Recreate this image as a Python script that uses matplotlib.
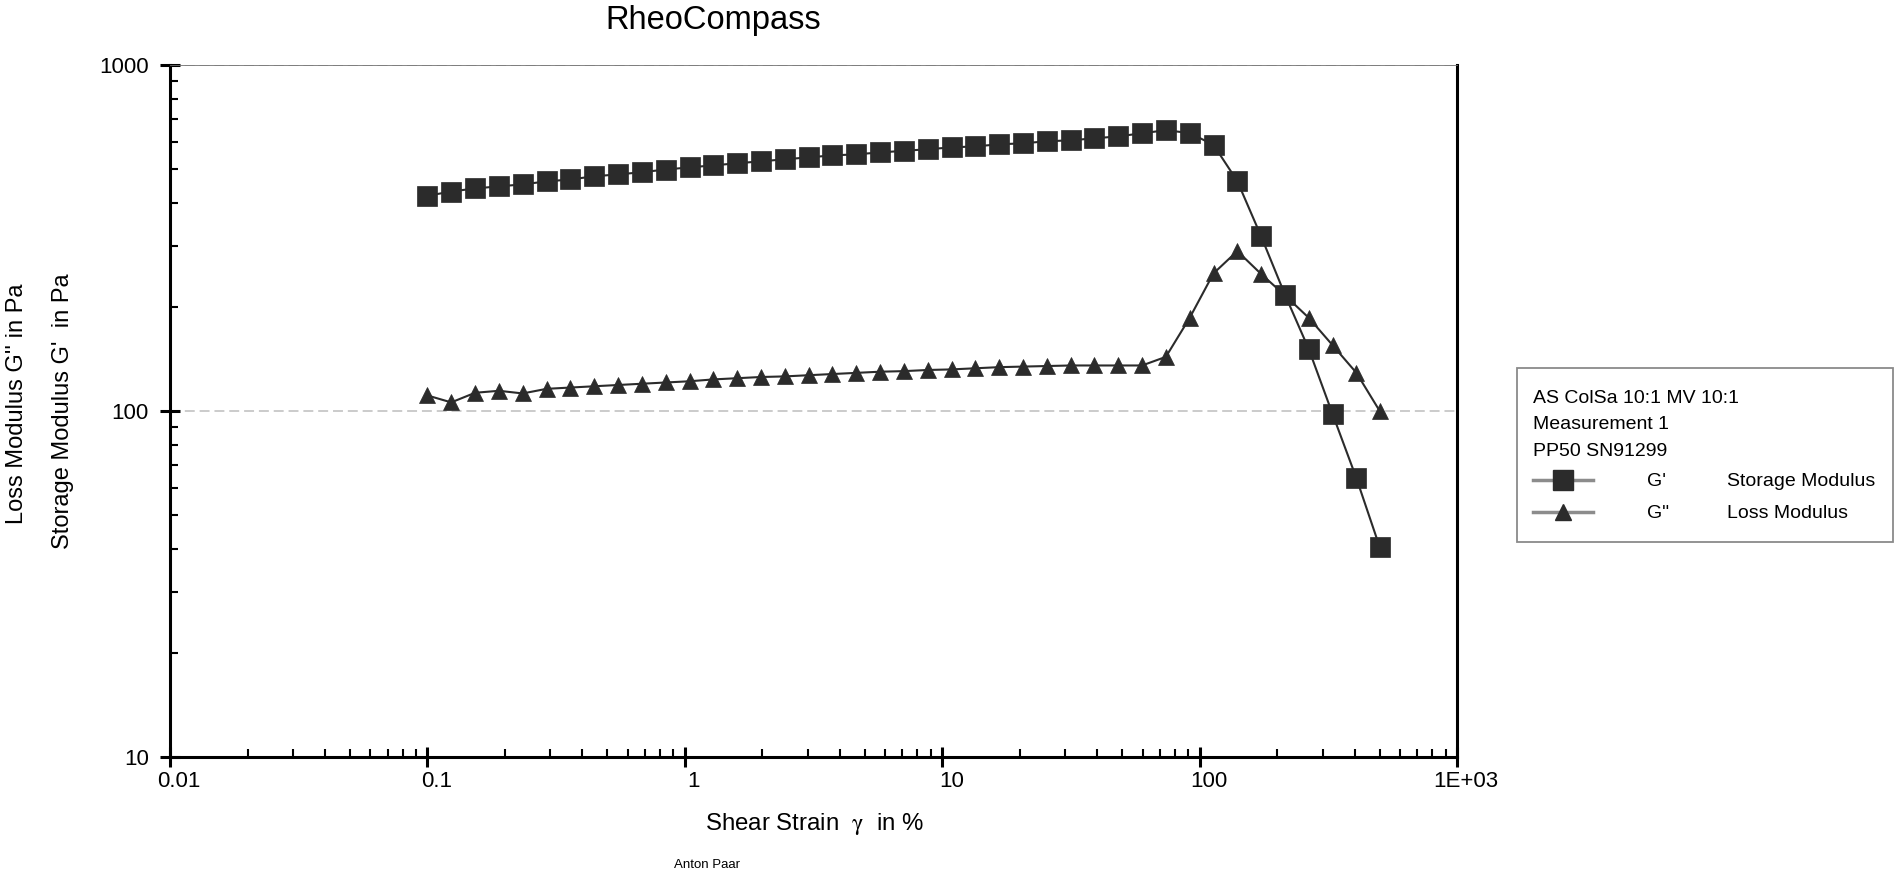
import matplotlib
matplotlib.use('Agg')
import matplotlib.pyplot as plt
from matplotlib.ticker import LogLocator, NullFormatter
from matplotlib.lines import Line2D
from matplotlib.patches import Rectangle
from matplotlib.transforms import ScaledTranslation

plt.rcParams['font.family'] = ['Liberation Sans', 'DejaVu Sans']
plt.rcParams['mathtext.fontset'] = 'stix'

# ---- data ----
strain = [0.1, 0.1237, 0.1531, 0.1895, 0.2345, 0.2901, 0.359, 0.4443, 0.5497, 0.6803,
          0.8418, 1.042, 1.289, 1.595, 1.974, 2.442, 3.022, 3.74, 4.627, 5.726,
          7.085, 8.768, 10.85, 13.43, 16.61, 20.56, 25.44, 31.48, 38.95, 48.2,
          59.64, 73.8, 91.32, 113.0, 139.8, 173.0, 214.1, 265.0, 327.9, 405.7, 500.0]

g_storage = [419, 431, 440, 446, 452, 461, 467, 477, 483, 490,
             499, 506, 513, 520, 527, 534, 541, 548, 552, 559,
             565, 571, 578, 582, 590, 594, 602, 606, 614, 622,
             635, 648, 636, 588, 462, 320, 217, 151, 98, 64, 40.4]

g_loss = [111, 106, 113, 114.5, 112.5, 116, 117, 118, 119, 120,
          121, 122, 123.5, 124.5, 125.5, 126, 127, 128, 129, 130,
          130.5, 131.5, 132, 133, 134, 134.5, 135, 135.5, 135.5, 135.5,
          135.5, 143.5, 186, 250, 290, 249, 216, 186, 155, 129, 100]

x_ticks = [0.01, 0.1, 1, 10, 100, 1000]
x_tick_labels = ['0.01', '0.1', '1', '10', '100', '1E+03']
y_ticks = [10, 100, 1000]
y_tick_labels = ['10', '100', '1000']

legend_header = ['AS ColSa 10:1 MV 10:1', 'Measurement 1', 'PP50 SN91299']
legend_symbols = ["G'", 'G"']
legend_names = ['Storage Modulus', 'Loss Modulus']

dark = '#2b2b2b'

fig = plt.figure(figsize=(18.94, 8.74), dpi=100)
ax = fig.add_axes([170 / 1894, 1 - 757.3 / 874, (1457.3 - 170) / 1894, (757.3 - 65) / 874])

ax.plot(strain, g_loss, color=dark, lw=1.5, marker='^', ms=12,
        mfc=dark, mec=dark, mew=0.5, zorder=3, clip_on=False)
ax.plot(strain, g_storage, color=dark, lw=1.5, marker='s', ms=14,
        mfc=dark, mec=dark, mew=0.5, zorder=4, clip_on=False)

ax.set_xscale('log')
ax.set_yscale('log')
ax.set_xlim(x_ticks[0], x_ticks[-1])
ax.set_ylim(y_ticks[0], y_ticks[-1])

ax.set_xticks(x_ticks)
ax.set_xticklabels(x_tick_labels)
ax.set_yticks(y_ticks)
ax.set_yticklabels(y_tick_labels)
ax.xaxis.set_minor_locator(LogLocator(base=10, subs=range(2, 10)))
ax.yaxis.set_minor_locator(LogLocator(base=10, subs=range(2, 10)))
ax.xaxis.set_minor_formatter(NullFormatter())
ax.yaxis.set_minor_formatter(NullFormatter())

ax.tick_params(which='major', direction='inout', length=14.4, width=2.2,
               labelsize=16, color='black')
ax.tick_params(which='minor', direction='in', length=5.5, width=1.5, color='black')
ax.tick_params(axis='x', which='major', pad=3)
ax.tick_params(axis='y', which='major', pad=8)

# x tick labels sit slightly right of their ticks in the reference
shift = ScaledTranslation(9 / 100, 0, fig.dpi_scale_trans)
for lab in ax.get_xticklabels():
    lab.set_transform(lab.get_transform() + shift)

for s in ['left', 'bottom', 'right']:
    ax.spines[s].set_linewidth(2.2)
    ax.spines[s].set_color('black')
ax.spines['top'].set_linewidth(0.6)
ax.spines['top'].set_color('#707070')

ax.yaxis.grid(True, which='major', color='#bdbdbd', lw=1.1, ls=(0, (6.5, 3.2)))
ax.xaxis.grid(False)
ax.set_axisbelow(True)

# titles and labels
fig.text(713 / 1894, 1 - 20.5 / 874, 'RheoCompass', ha='center', va='center', fontsize=23.5)
fig.text(815 / 1894, 1 - 830 / 874, 'Shear Strain  $\\mathrm{\\gamma}$  in %',
         ha='center', va='baseline', fontsize=17.3)
fig.text(707 / 1894, 1 - 865 / 874, 'Anton Paar', ha='center', va='center', fontsize=9.5)
fig.text(17 / 1894, 1 - 404 / 874, "Loss Modulus G'' in Pa", rotation=90,
         ha='center', va='center', fontsize=17)
fig.text(63 / 1894, 1 - 411 / 874, "Storage Modulus G'  in Pa", rotation=90,
         ha='center', va='center', fontsize=17)

# legend box
lx0, ly0, lx1, ly1 = 1517, 368, 1893, 542
lax = fig.add_axes([lx0 / 1894, 1 - ly1 / 874, (lx1 - lx0) / 1894, (ly1 - ly0) / 874])
lax.set_xlim(0, lx1 - lx0)
lax.set_ylim(ly1 - ly0, 0)
lax.axis('off')
lax.add_patch(Rectangle((0, 0), lx1 - lx0, ly1 - ly0, fill=False, ec='#8a8a8a',
                        lw=1.3, clip_on=False))
baselines = [35, 61, 88]
for t, b in zip(legend_header, baselines):
    lax.text(16, b, t, fontsize=14, va='baseline', ha='left')
markers = ['s', '^']
msizes = [14, 12]
rows = [112, 144]
for m, ms, r, sym, name in zip(markers, msizes, rows, legend_symbols, legend_names):
    lax.add_line(Line2D([16, 76], [r, r], color='#8c8c8c', lw=2.5))
    lax.add_line(Line2D([46], [r], marker=m, ms=ms, mfc=dark, mec=dark, lw=0))
    lax.text(130, r + 6, sym, fontsize=14, va='baseline', ha='left')
    lax.text(210, r + 6, name, fontsize=14, va='baseline', ha='left')

fig.savefig('out.png', dpi=100)
